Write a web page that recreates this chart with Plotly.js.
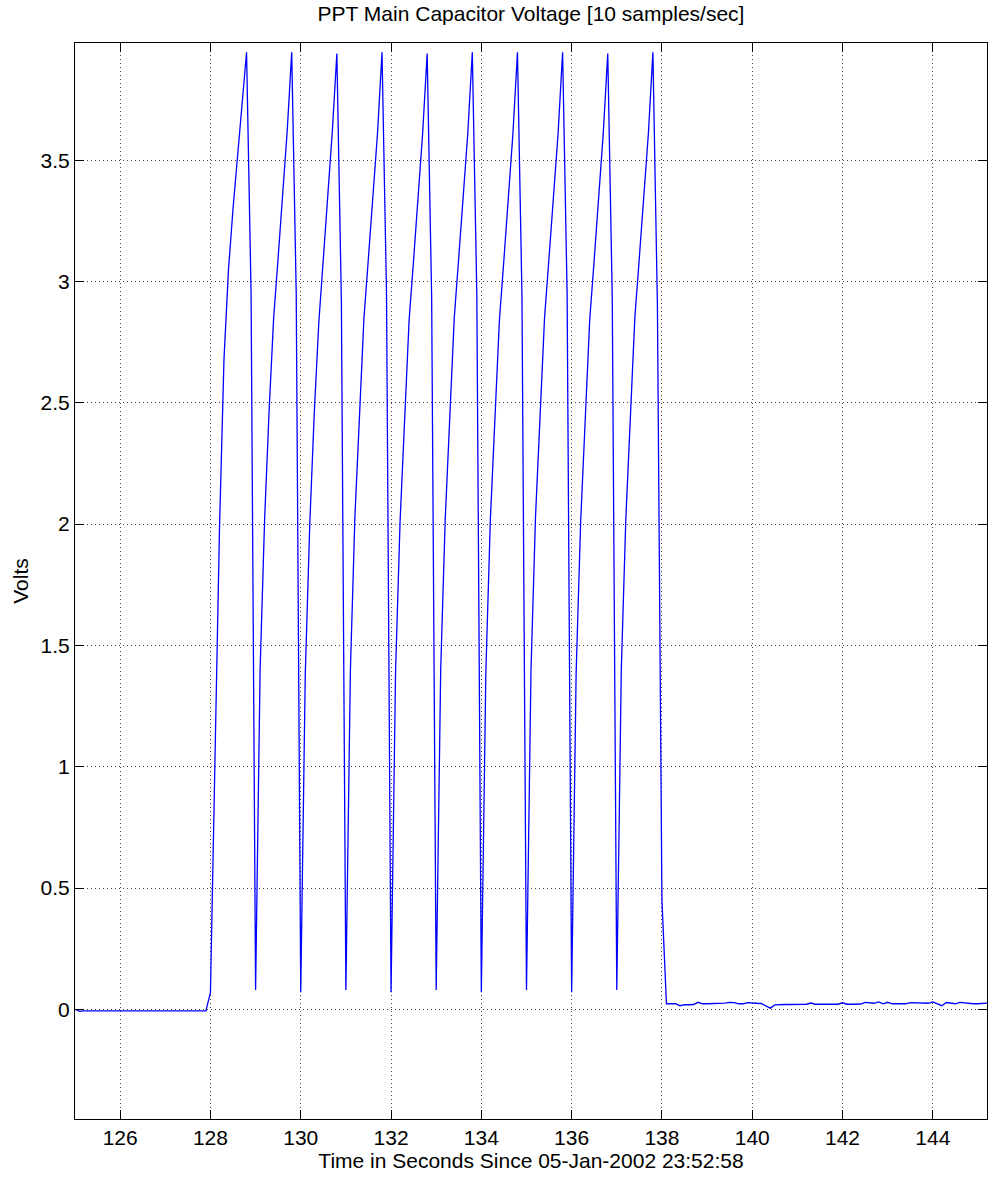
<!DOCTYPE html>
<html>
<head>
<meta charset="utf-8">
<script src="https://cdn.plot.ly/plotly-3.0.1.min.js"></script>
<style>html,body{margin:0;padding:0;background:#fff;}#chart{width:992px;height:1178px;}</style>
</head>
<body>
<div id="chart"></div>
<script>
// Sampling: 10 samples/sec starting at t = 125.0 s
const startTime = 125.0;
const sampleRate = 10;

// Baseline before firing, 125.0 - 127.9
const preFire = [0.000, -0.008, -0.006, -0.006, -0.006, -0.006, -0.006, -0.006, -0.006, -0.006,
                 -0.006, -0.006, -0.006, -0.006, -0.006, -0.006, -0.006, -0.006, -0.006, -0.006,
                 -0.006, -0.006, -0.006, -0.006, -0.006, -0.006, -0.006, -0.006, -0.006, -0.006];

// Charge/discharge cycles, 10 samples each (N.0 - N.9)
const cycle128 = [0.07, 1.03, 1.98, 2.68, 3.05, 3.30, 3.52, 3.72, 3.945, 2.95];
const cycle129 = [0.08, 1.40, 2.02, 2.47, 2.85, 3.10, 3.36, 3.62, 3.945, 2.95];
const cycle130 = [0.07, 1.38, 2.00, 2.46, 2.83, 3.10, 3.36, 3.62, 3.94, 2.92];
const cycle131 = [0.08, 1.40, 2.03, 2.47, 2.85, 3.10, 3.36, 3.61, 3.945, 2.95];
const cycle132 = [0.07, 1.39, 2.01, 2.46, 2.84, 3.09, 3.35, 3.61, 3.94, 2.93];
const cycle133 = [0.08, 1.40, 2.02, 2.47, 2.85, 3.10, 3.36, 3.61, 3.945, 2.95];
const cycle134 = [0.07, 1.39, 2.02, 2.46, 2.84, 3.09, 3.35, 3.61, 3.945, 2.94];
const cycle135 = [0.08, 1.40, 2.03, 2.47, 2.85, 3.10, 3.36, 3.61, 3.945, 2.95];
const cycle136 = [0.07, 1.39, 2.01, 2.46, 2.84, 3.09, 3.35, 3.61, 3.94, 2.93];
const cycle137 = [0.08, 1.40, 2.02, 2.47, 2.85, 3.10, 3.36, 3.61, 3.945, 2.90];

// After firing stops, 138.0 - 145.2
const postFire = [0.45, 0.023, 0.023, 0.023, 0.015, 0.019, 0.019, 0.020, 0.029, 0.023,
                  0.023, 0.023, 0.023, 0.023, 0.026, 0.029, 0.028, 0.023, 0.023, 0.028,
                  0.025, 0.025, 0.024, 0.014, 0.005, 0.018, 0.020, 0.020, 0.020, 0.020,
                  0.020, 0.020, 0.021, 0.026, 0.021, 0.021, 0.021, 0.021, 0.021, 0.021,
                  0.027, 0.021, 0.021, 0.021, 0.022, 0.029, 0.026, 0.025, 0.031, 0.023,
                  0.029, 0.023, 0.023, 0.023, 0.023, 0.028, 0.028, 0.028, 0.027, 0.025,
                  0.031, 0.024, 0.015, 0.028, 0.024, 0.023, 0.029, 0.026, 0.025, 0.023,
                  0.023, 0.023, 0.026];

const xTickVals = [126, 128, 130, 132, 134, 136, 138, 140, 142, 144];
const yTickVals = [0, 0.5, 1, 1.5, 2, 2.5, 3, 3.5];

const volts = [].concat(preFire, cycle128, cycle129, cycle130, cycle131, cycle132,
  cycle133, cycle134, cycle135, cycle136, cycle137, postFire);
const times = volts.map((_, i) => Math.round((startTime + i / sampleRate) * 10) / 10);

const font = "Liberation Sans, Arial, Helvetica, sans-serif";

const trace = {
  x: times, y: volts, type: 'scatter', mode: 'lines',
  line: {color: '#0000ff', width: 1.3}, hoverinfo: 'x+y'
};

const axisCommon = {
  showline: true, linecolor: '#000', linewidth: 1, mirror: 'ticks',
  ticks: 'inside', ticklen: 9, tickcolor: '#000', tickwidth: 1,
  showgrid: true, gridcolor: '#444', gridwidth: 1, griddash: '1px,3px',
  zeroline: false, tickfont: {family: font, size: 21, color: '#000'}
};

const layout = {
  width: 992, height: 1178,
  paper_bgcolor: '#fff', plot_bgcolor: '#fff',
  margin: {l: 75, r: 5, t: 43, b: 59},
  showlegend: false,
  title: {text: 'PPT Main Capacitor Voltage [10 samples/sec]',
          font: {family: font, size: 21, color: '#000'},
          xref: 'paper', x: 0.5, xanchor: 'center',
          yref: 'container', y: 1 - 14 / 1178, yanchor: 'middle'},
  xaxis: Object.assign({}, axisCommon, {
    range: [125.0, 145.2], tickvals: xTickVals,
    title: {text: 'Time in Seconds Since 05-Jan-2002 23:52:58',
            font: {family: font, size: 21, color: '#000'}, standoff: 4}
  }),
  yaxis: Object.assign({}, axisCommon, {
    range: [-0.452, 3.983], tickvals: yTickVals,
    title: {text: 'Volts', font: {family: font, size: 21, color: '#000'}, standoff: 6}
  })
};

Plotly.newPlot('chart', [trace], layout, {displayModeBar: false, staticPlot: true});
</script>
</body>
</html>
